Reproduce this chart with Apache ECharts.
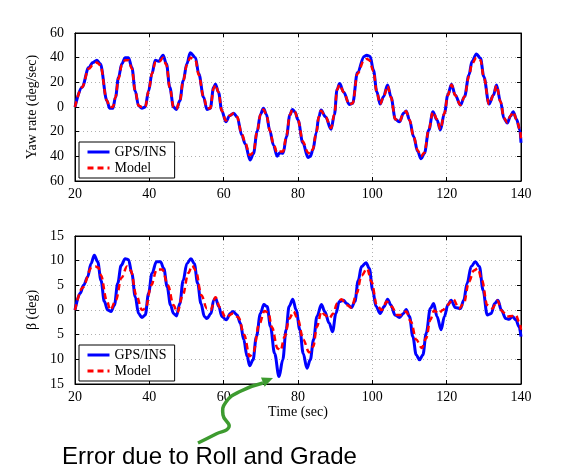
<!DOCTYPE html>
<html>
<head>
<meta charset="utf-8">
<script src="https://cdn.jsdelivr.net/npm/echarts@6/dist/echarts.min.js"></script>
<style>
  html, body { margin: 0; padding: 0; background: #fff; }
  #chart { width: 576px; height: 472px; }
</style>
</head>
<body>
<div id="chart"></div>
<script>
// yaw rate, GPS/INS (time, value)
const yawGpsT = [20, 21.9, 23.7, 24.8, 25.9, 26.8, 28.6, 29.3, 30.2, 30.9, 31.7, 32.6, 33.5, 34.4, 35.3, 36.2, 37.1, 38, 38.9, 39.8,
  40.7, 41.6, 42.5, 43.7, 44.6, 45.5, 46.5, 47.3, 48.2, 49.1, 50.1, 51, 52.4, 53.3, 54.6, 55.5, 56.4, 57.3, 57.8, 58.6,
  59.5, 60.6, 61.6, 62.7, 63.6, 64.9, 65.8, 67.1, 68, 69, 69.9, 70.7, 71.5, 72.4, 73.4, 74.4, 75.1, 76, 76.9, 77.8,
  78.5, 79.2, 80, 81.3, 82.7, 83.3, 84, 84.9, 85.6, 86.2, 87.4, 88.9, 89.8, 90.5, 91.2, 92.3, 93.8, 94.7, 96, 97.8,
  98.5, 99.4, 100.3, 101.2, 102.1, 103, 104.1, 105, 106.2, 107.3, 108.4, 109.1, 110, 111.1, 112.2, 113.1, 114, 115.2, 116.3, 117.4,
  118.3, 119.4, 120.3, 121.3, 122.3, 123.7, 124.8, 126, 126.8, 128, 129.1, 130, 131.4, 132.6, 133.4, 134.5, 135.4, 136.3, 137.2, 137.9,
  138.8, 139.7, 140];
const yawGps = [0, 16, 32, 36, 38, 35, 5, -1, -1, 8, 24, 35, 40, 40, 32, 13, 1, -1, 0, 13,
  27, 38, 37, 42, 35, 16, 0, -2, 5, 21, 35, 44, 40, 27, 8, -2, -1, 16, 18.5, 12,
  -3, -12, -7, -5, -8, -23, -30, -43, -38, -20, -6, -1, -6, -19, -31, -40, -37, -37.5, -24, -6.5,
  -2, -4, -10.5, -29, -41, -40, -35, -21, -8, -2.5, -8, -18, -6, 14, 19, 12, 2, 3, 28, 41,
  42, 41, 30, 12.4, 2.4, 8.4, 17.8, 8.4, -10, -12, -5, -3.2, -10.5, -24, -36, -42, -37.6, -18.6, -3.8, -10.5,
  -18.6, -5, 9.7, 18.4, 9.7, 1.6, 8.4, 26, 36.8, 43, 39.5, 24.6, 2.4, 9.7, 17.8, 4.3, -9.2, -13, -7.3, -3.8,
  -10, -18.6, -29];

// yaw rate, model
const yawModelT = [20, 21.9, 23.7, 24.8, 25.9, 26.8, 28.6, 29.3, 30.2, 30.9, 31.7, 32.6, 33.5, 34.4, 35.3, 36.2, 37.1, 38, 38.9, 39.8,
  40.7, 41.6, 42.5, 43.7, 44.6, 45.5, 46.5, 47.3, 48.2, 49.1, 50.1, 51, 52.4, 53.3, 54.6, 55.5, 56.4, 57.3, 57.8, 58.6,
  59.5, 60.6, 61.6, 62.7, 63.6, 64.9, 65.8, 67, 68, 69, 69.9, 70.7, 71.5, 72.4, 73.4, 74.4, 75.1, 76, 76.9, 77.8,
  78.5, 79.2, 80, 81.3, 82.7, 83.3, 84, 84.9, 85.6, 86.2, 87.4, 88.9, 89.8, 90.5, 91.2, 92.3, 93.8, 94.7, 96, 97.8,
  98.5, 99.2, 100.3, 101.2, 102.1, 103, 104.1, 105, 106.2, 107.3, 108.4, 109.1, 110, 111.1, 112.2, 113.1, 114, 115.2, 116.3, 117.4,
  118.3, 119.4, 120.3, 121.3, 122.3, 123.7, 124.8, 126, 126.8, 128, 129.1, 130, 131.4, 132.6, 133.4, 134.5, 135.4, 136.3, 137.2, 137.9,
  138.8, 139.7, 140];
const yawModel = [0, 16, 31, 34, 36, 34, 5, 0, 0, 8, 23, 34, 38, 38, 31, 13, 1, 0, 0, 13,
  27, 36, 36, 40, 34, 16, 0, -1.5, 5, 21, 34, 40, 38, 26, 8, -1, -1, 15, 18, 12,
  -3, -11, -7, -5, -8, -22, -29, -39, -37, -20, -6, -2, -6, -19, -30, -37, -36, -36, -23, -6.5,
  -2, -4, -10.5, -28, -37, -38, -34, -21, -8, -3, -8, -17, -6, 14, 18, 12, 2, 3, 27, 38,
  39, 38, 29, 12, 2.4, 8, 17, 8, -10, -12, -5, -3.5, -10.5, -24, -35, -40, -37, -18, -4, -10,
  -18, -5, 9.5, 18, 9.5, 1.6, 8.4, 25, 35, 40, 38, 24, 2.4, 9.7, 17.5, 4.3, -9, -12.5, -7, -4,
  -10, -18, -27];

// sideslip, GPS/INS
const betaGpsT = [20, 21.4, 22.3, 23.4, 24.3, 25.2, 26.1, 27, 27.9, 28.8, 29.7, 30.6, 31.5, 32.4, 33.5, 34.4, 35.3, 36.2, 37.1, 38,
  38.9, 39.8, 40.7, 41.9, 43, 43.9, 44.8, 45.7, 46.5, 47.3, 48.2, 49.1, 50.1, 51.2, 52.1, 53, 53.9, 54.8, 55.5, 56.6,
  57.3, 57.8, 58.7, 59.5, 60.7, 61.8, 62.5, 63.6, 64.5, 65.4, 66.3, 67, 67.9, 68.8, 69.9, 70.8, 71.7, 72.6, 73.7, 74.9,
  75.9, 76.8, 77.6, 78.6, 79.5, 80.5, 81.4, 82.4, 83.3, 84.2, 85.1, 86.3, 87.2, 88.4, 89.3, 90.2, 91.1, 92.2, 93.1, 94.4,
  95.3, 96.2, 97.1, 98.3, 99.2, 100.1, 101, 102.1, 103.2, 104.1, 105, 106.1, 107.3, 108.4, 109.1, 110, 110.9, 111.8, 112.7, 113.6,
  114.5, 115.6, 116.5, 117.4, 118.5, 119.4, 120.3, 121.2, 122.3, 123.7, 124.6, 125.5, 126.6, 127.7, 128.8, 129.8, 130.9, 132, 132.9, 133.8,
  134.7, 135.9, 136.8, 137.7, 138.6, 139.5, 140];
const betaGps = [0, 3.4, 5, 6.7, 9.4, 11.1, 9.8, 6, 1.7, 0, -0.3, 1, 5.4, 9, 10.4, 10.2, 7.4, 2.7, -0.7, -1.5,
  -1, 3.4, 7.4, 9.8, 9.8, 8.4, 4.7, 1, -0.7, -1.2, 1.3, 6, 9.4, 10.4, 9.4, 5.4, 1.3, -1.3, -1.7, -0.7,
  2, 2.4, 0.7, -1.3, -2, -0.7, -0.3, -1, -2.7, -6, -9.4, -11.3, -10.1, -5.4, -0.7, 1.1, 0.7, -3.4, -8.8, -13.5,
  -10.1, -4, 0.7, 2.2, 0, -4, -8.8, -11.8, -10.1, -6, -1.3, 1.1, -0.3, -2.7, -4.4, -0.7, 1.7, 2, 1.3, 0.5,
  1.7, 6, 8.8, 9.6, 8.4, 4, 0.7, -0.7, 0.7, 2.2, 1, -1, -1.5, -0.7, 0.1, -1.3, -5.4, -9.1, -10.1, -9.1,
  -4.7, 0.3, 1.3, -1.3, -4, -1.3, 1, 2, 0.5, 0.3, 2, 5.4, 8.8, 9.8, 8.8, 4, -1, -0.7, 1.3, 2,
  0, -1.7, -1.9, -1.3, -2, -3.4, -5.4];

// sideslip, model
const betaModelT = [20, 22, 24.5, 25.5, 26.3, 27, 28.5, 29.5, 31, 32.5, 34, 35, 36.5, 38, 39, 40.5, 42, 43.5, 45, 46.5,
  47.5, 49, 50.5, 51.5, 52.5, 54, 55.5, 56.5, 57.8, 59, 60.5, 62.5, 64, 65.5, 67, 68, 69.5, 71, 72, 73,
  74.5, 75.3, 76.4, 77.7, 78.8, 80, 81.4, 83, 84.1, 85.1, 86.3, 87.2, 88.4, 89.5, 90.5, 91.7, 93.1, 94.4, 95.8, 97.1,
  98.6, 99.8, 101.2, 102.5, 103.9, 105.2, 106.6, 107.9, 109.1, 110.4, 111.8, 113.3, 114.5, 115.6, 116.6, 117.8, 119, 120.1, 121.8, 123.3,
  124.6, 126, 127.3, 128.4, 129.5, 130.9, 132.3, 133.6, 135, 136.3, 137.7, 138.6, 139.5, 140];
const betaModel = [0, 4.5, 8.6, 8.8, 8.6, 7, 2, 0, 2, 6.5, 8.8, 8, 3, 0, 0.3, 5, 8.2, 8.2, 5, 1,
  -0.5, 3, 7.5, 9, 8, 3, 0.3, 0, 2.6, 0.5, -1.5, -0.7, -1.5, -5, -9.4, -8.5, -3, -0.2, -0.5, -3.5,
  -7.8, -8.2, -5.4, -1.7, -0.3, -2, -6, -8.6, -7.4, -3.4, -0.3, -1, -1.7, -0.7, 1.3, 2.2, 1, 0.5, 3.4, 7,
  8.4, 5.7, 1, 0, 1.7, 0.7, -1, -1, -0.3, -2.4, -6, -7.7, -5.7, -2, -0.1, -0.7, 0, 1, 2.2, 0.3,
  1.3, 5.7, 8, 8.4, 6, 1, 0.3, 1.9, -0.3, -1.3, -1.2, -1, -2.4, -4];

const timeTicks = [20, 40, 60, 80, 100, 120, 140];

function pairs(t, v) {
  return t.map((x, i) => [x, v[i]]);
}

const chart = echarts.init(document.getElementById('chart'), null, { renderer: 'canvas' });

const serif = '"Liberation Serif", "DejaVu Serif", serif';
const tickFont = { fontFamily: serif, fontSize: 14, color: '#000' };

function xAx(grid, withName) {
  return [{
    type: 'value', gridIndex: grid, min: timeTicks[0], max: timeTicks[timeTicks.length - 1], interval: 20,
    axisLine: { onZero: false, lineStyle: { color: '#000', width: 1 } },
    axisTick: { inside: true, length: 4, lineStyle: { color: '#000' } },
    axisLabel: Object.assign({ margin: 6 }, tickFont),
    splitLine: { show: true, lineStyle: { color: '#b0b0b0', type: [1, 3], width: 1 } },
    name: withName ? 'Time (sec)' : '', nameLocation: 'middle', nameGap: 20,
    nameTextStyle: { fontFamily: serif, fontSize: 14, color: '#000' }
  }, {
    // top edge ticks
    type: 'value', gridIndex: grid, position: 'top', min: 20, max: 140, interval: 20,
    axisLine: { onZero: false, lineStyle: { color: '#000', width: 1 } },
    axisTick: { inside: true, length: 4, lineStyle: { color: '#000' } },
    axisLabel: { show: false }, splitLine: { show: false }
  }];
}

function yAx(grid, lim, step, name) {
  return [{
    type: 'value', gridIndex: grid, min: -lim, max: lim, interval: step,
    axisLine: { onZero: false, lineStyle: { color: '#000', width: 1 } },
    axisTick: { inside: true, length: 4, lineStyle: { color: '#000' } },
    axisLabel: Object.assign({ margin: 11, formatter: v => String(Math.abs(v)) }, tickFont),
    splitLine: { show: true, lineStyle: { color: '#b0b0b0', type: [1, 3], width: 1 } },
    name: name, nameLocation: 'middle', nameGap: 26,
    nameTextStyle: { fontFamily: serif, fontSize: 14, color: '#000' }
  }, {
    // right edge ticks
    type: 'value', gridIndex: grid, position: 'right', min: -lim, max: lim, interval: step,
    axisLine: { onZero: false, lineStyle: { color: '#000', width: 1 } },
    axisTick: { inside: true, length: 4, lineStyle: { color: '#000' } },
    axisLabel: { show: false }, splitLine: { show: false }
  }];
}

function line(name, xi, yi, data, color, dashed) {
  return {
    name: name, type: 'line', xAxisIndex: xi, yAxisIndex: yi,
    data: data, showSymbol: false, symbol: 'none',
    smooth: 0.35, smoothMonotone: 'x',
    lineStyle: { color: color, width: dashed ? 2.5 : 3, type: dashed ? [6, 4] : 'solid' },
    itemStyle: { color: color },
    z: dashed ? 3 : 2, animation: false
  };
}

function legendAt(top) {
  return {
    orient: 'vertical', left: 79, top: top,
    data: ['GPS/INS', 'Model'],
    itemWidth: 22, itemHeight: 14, itemGap: 2,
    itemStyle: { opacity: 0 },
    lineStyle: { width: 3 },
    padding: [3, 8, 3, 7],
    backgroundColor: '#fff', borderColor: '#000', borderWidth: 1, borderRadius: 0,
    textStyle: { fontFamily: serif, fontSize: 14, color: '#000' }
  };
}

const option = {
  backgroundColor: '#fff',
  animation: false,
  grid: [
    { left: 75, top: 33, width: 446, height: 148, show: true, borderColor: '#000', borderWidth: 1, backgroundColor: '#fff' },
    { left: 75, top: 236, width: 446, height: 148, show: true, borderColor: '#000', borderWidth: 1, backgroundColor: '#fff' }
  ],
  xAxis: xAx(0, false).concat(xAx(1, true)),
  yAxis: yAx(0, 60, 20, 'Yaw rate (deg/sec)').concat(yAx(1, 15, 5, 'β (deg)')),
  legend: [
    Object.assign(legendAt(142), { id: 'l0' }),
    Object.assign(legendAt(345), { id: 'l1' })
  ],
  series: [
    line('GPS/INS', 0, 0, pairs(yawGpsT, yawGps), '#0000ff', false),
    line('Model', 0, 0, pairs(yawModelT, yawModel), '#ff0000', true),
    line('GPS/INS', 2, 2, pairs(betaGpsT, betaGps), '#0000ff', false),
    line('Model', 2, 2, pairs(betaModelT, betaModel), '#ff0000', true)
  ],
  graphic: [
    // annotation arrow
    {
      type: 'polyline', z: 100,
      shape: { points: [[198, 443], [216, 434], [229, 427], [223, 415], [226, 402], [241, 391], [263, 383]], smooth: 0.5 },
      style: { stroke: '#3d9b2f', lineWidth: 3.5, fill: null }
    },
    {
      type: 'polygon', z: 100,
      shape: { points: [[273, 378], [264.6, 386.8], [261, 377.5]] },
      style: { fill: '#3d9b2f' }
    },
    {
      type: 'text', z: 100, x: 62, y: 457,
      style: { text: 'Error due to Roll and Grade', fontFamily: '"Liberation Sans", Arial, sans-serif', fontSize: 24, fill: '#000', verticalAlign: 'middle' }
    }
  ]
};

chart.setOption(option);
</script>
</body>
</html>
